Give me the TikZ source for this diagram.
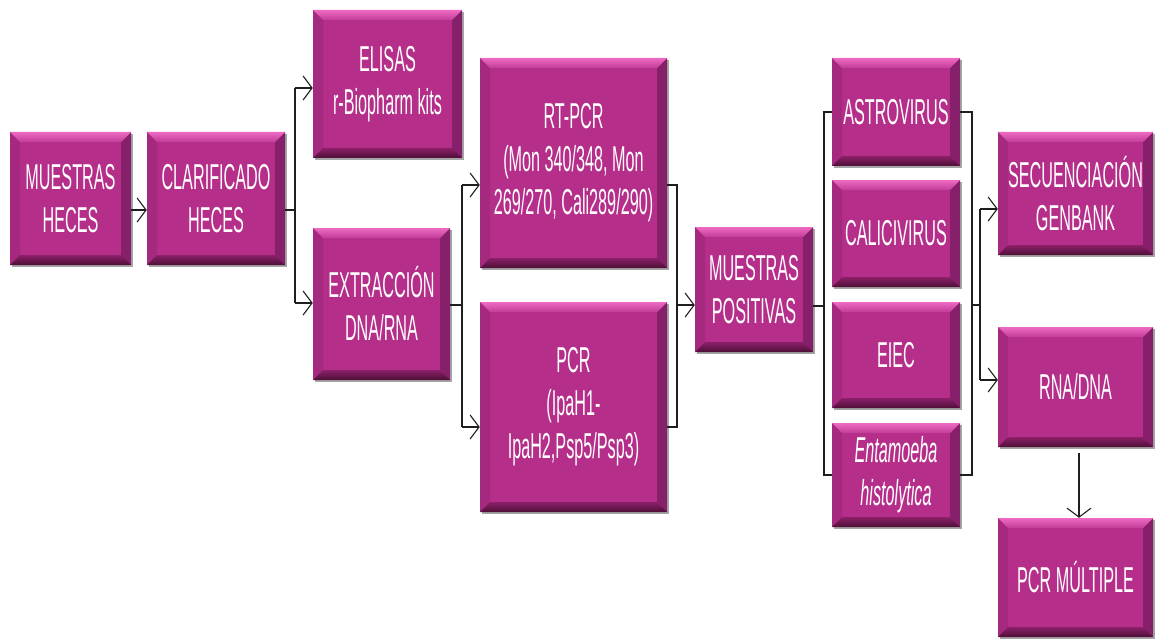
\documentclass[tikz,border=0pt]{standalone}
\usepackage{fontspec}
\usetikzlibrary{arrows.meta,shadows}
\newfontfamily\boxfont[FakeStretch=0.45]{Liberation Sans}
\definecolor{boxmain}{HTML}{B52E8A}
\definecolor{bvtop}{HTML}{EE6AC2}
\definecolor{bvmid}{HTML}{C03C98}
\definecolor{bvbotin}{HTML}{8C2069}
\definecolor{bvbotout}{HTML}{4E0F36}
\definecolor{bvleft}{HTML}{A5297F}
\definecolor{bvright}{HTML}{86206A}
\definecolor{lnk}{HTML}{1E1E1E}
\newcommand\bvd{10pt}
\tikzset{
  pbox/.style={rectangle, fill=boxmain, text=white, align=center, inner sep=0pt,
    font=\boxfont\fontsize{36}{43}\selectfont,
    drop shadow={shadow xshift=1.5pt, shadow yshift=-2pt, opacity=0.35, fill=black},
    path picture={
      \path (path picture bounding box.north west) coordinate (pNW)
            (path picture bounding box.north east) coordinate (pNE)
            (path picture bounding box.south west) coordinate (pSW)
            (path picture bounding box.south east) coordinate (pSE);
      \fill[bvleft] (pNW) -- ([xshift=\bvd,yshift=-\bvd]pNW) -- ([xshift=\bvd,yshift=\bvd]pSW) -- (pSW) -- cycle;
      \fill[bvright] (pNE) -- ([xshift=-\bvd,yshift=-\bvd]pNE) -- ([xshift=-\bvd,yshift=\bvd]pSE) -- (pSE) -- cycle;
      \shade[top color=bvtop, bottom color=bvmid] (pNW) -- (pNE) -- ([xshift=-\bvd,yshift=-\bvd]pNE) -- ([xshift=\bvd,yshift=-\bvd]pNW) -- cycle;
      \shade[top color=bvbotin, bottom color=bvbotout] (pSW) -- (pSE) -- ([xshift=-\bvd,yshift=\bvd]pSE) -- ([xshift=\bvd,yshift=\bvd]pSW) -- cycle;
    }},
  link/.style={draw=lnk, line width=1.4pt},
  >={Straight Barb[length=9pt,width=24pt,line width=1.1pt]}
}
\begin{document}
\begin{tikzpicture}[x=1pt,y=-1pt]
\useasboundingbox[fill=white] (0,0) rectangle (1155,639);
% nodes
\node[pbox, minimum width=121pt, minimum height=133pt] (m1) at (70.5,198.5) {MUESTRAS\\HECES};
\node[pbox, minimum width=138pt, minimum height=133pt] (m2) at (216,198.5) {CLARIFICADO\\HECES};
\node[pbox, minimum width=149pt, minimum height=148pt] (e1) at (387.5,84) {ELISAS\\r-Biopharm kits};
\node[pbox, minimum width=137pt, minimum height=152pt] (e2) at (381.5,304) {EXTRACCIÓN\\DNA/RNA};
\node[pbox, minimum width=187pt, minimum height=210pt] (r1) at (573.5,163) {RT-PCR\\(Mon 340/348, Mon\\269/270, Cali289/290)};
\node[pbox, minimum width=187pt, minimum height=210pt] (r2) at (573.5,407) {PCR\\(IpaH1-\\IpaH2,Psp5/Psp3)};
\node[pbox, minimum width=118pt, minimum height=125pt] (mp) at (754,289.5) {MUESTRAS\\POSITIVAS};
\node[pbox, minimum width=128pt, minimum height=108pt] (a1) at (896,112) {ASTROVIRUS};
\node[pbox, minimum width=128pt, minimum height=107pt] (a2) at (896,233.5) {CALICIVIRUS};
\node[pbox, minimum width=128pt, minimum height=106pt] (a3) at (896,355) {EIEC};
\node[pbox, minimum width=128pt, minimum height=104pt] (a4) at (896,475) {\itshape Entamoeba\\\itshape histolytica};
\node[pbox, minimum width=155pt, minimum height=123pt] (s1) at (1075.5,193.5) {SECUENCIACIÓN\\GENBANK};
\node[pbox, minimum width=155pt, minimum height=120pt] (s2) at (1075.5,387) {RNA/DNA};
\node[pbox, minimum width=155pt, minimum height=119pt] (s3) at (1075.5,577.5) {PCR MÚLTIPLE};
% junction coordinates
\coordinate (j1) at (295,210);
\coordinate (j1a) at (295,88);
\coordinate (j1b) at (295,303);
\coordinate (j2) at (462,305);
\coordinate (j2a) at (462,185);
\coordinate (j2b) at (462,427);
\coordinate (j3a) at (677,185);
\coordinate (j3b) at (677,427);
\coordinate (j3) at (677,305);
\coordinate (j4) at (824,306);
\coordinate (j4a) at (824,112);
\coordinate (j4b) at (824,475);
\coordinate (j5a) at (972,112);
\coordinate (j5b) at (972,475);
\coordinate (j5) at (972,305);
\coordinate (j6) at (980,305);
\coordinate (j6a) at (980,209);
\coordinate (j6b) at (980,380);
\coordinate (d1) at (1079,453);
% connectors
\draw[link,->] (m1.east |- j1) -- (m2.west |- j1);
\draw[link] (m2.east |- j1) -- (j1);
\draw[link] (j1a) -- (j1b);
\draw[link,->] (j1a) -- (e1.west |- j1a);
\draw[link,->] (j1b) -- (e2.west |- j1b);
\draw[link] (e2.east |- j2) -- (j2);
\draw[link] (j2a) -- (j2b);
\draw[link,->] (j2a) -- (r1.west |- j2a);
\draw[link,->] (j2b) -- (r2.west |- j2b);
\draw[link] (r1.east |- j3a) -- (j3a) -- (j3b) -- (r2.east |- j3b);
\draw[link,->] (j3) -- (mp.west |- j3);
\draw[link] (mp.east |- j4) -- (j4);
\draw[link] (a1.west |- j4a) -- (j4a) -- (j4b) -- (a4.west |- j4b);
\draw[link] (a1.east |- j5a) -- (j5a) -- (j5b) -- (a4.east |- j5b);
\draw[link] (j5) -- (j6);
\draw[link] (j6a) -- (j6b);
\draw[link,->] (j6a) -- (s1.west |- j6a);
\draw[link,->] (j6b) -- (s2.west |- j6b);
\draw[link,->] (d1) -- (s3.north -| d1);
\end{tikzpicture}
\end{document}
